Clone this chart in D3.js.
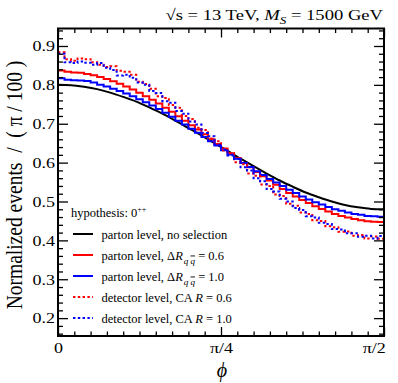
<!DOCTYPE html>
<html>
<head>
<meta charset="utf-8">
<script src="https://cdn.jsdelivr.net/npm/d3@7"></script>
<style>
  html, body { margin: 0; padding: 0; background: #fff; }
  svg { display: block; font-family: "Liberation Serif", "Times New Roman", serif; }
</style>
</head>
<body>
<svg id="chart" width="398" height="383"></svg>
<script>
// ---- data -------------------------------------------------------------
// 50 bins of width pi/100 over phi in [0, pi/2]
const binCount = 50;
const phiMax = Math.PI / 2;

// smooth reference curve, sampled at phi = k*pi/50, k = 0..25
const noSelection = [0.800, 0.799, 0.795, 0.789, 0.780, 0.769, 0.757, 0.742, 0.726, 0.708,
  0.689, 0.670, 0.650, 0.630, 0.610, 0.591, 0.572, 0.554, 0.538, 0.523,
  0.511, 0.500, 0.491, 0.485, 0.481, 0.480];

const partonR06 = [0.837, 0.834, 0.832, 0.831, 0.828, 0.825, 0.820, 0.815, 0.809, 0.803,
  0.796, 0.788, 0.780, 0.771, 0.762, 0.752, 0.741, 0.731, 0.719, 0.708,
  0.696, 0.685, 0.673, 0.660, 0.648, 0.636, 0.624, 0.612, 0.599, 0.588,
  0.576, 0.565, 0.554, 0.543, 0.532, 0.522, 0.513, 0.504, 0.496, 0.488,
  0.481, 0.474, 0.468, 0.463, 0.459, 0.455, 0.452, 0.449, 0.448, 0.447];

const partonR10 = [0.817, 0.813, 0.812, 0.811, 0.810, 0.806, 0.800, 0.796, 0.790, 0.784,
  0.778, 0.771, 0.763, 0.755, 0.747, 0.738, 0.728, 0.718, 0.708, 0.698,
  0.687, 0.677, 0.666, 0.655, 0.644, 0.632, 0.621, 0.610, 0.599, 0.589,
  0.578, 0.568, 0.558, 0.549, 0.540, 0.530, 0.522, 0.513, 0.505, 0.498,
  0.492, 0.486, 0.480, 0.476, 0.472, 0.468, 0.466, 0.463, 0.462, 0.461];

const detectorR06 = [0.884, 0.866, 0.862, 0.868, 0.866, 0.858, 0.852, 0.846, 0.848, 0.836,
  0.834, 0.826, 0.808, 0.802, 0.790, 0.771, 0.766, 0.748, 0.741, 0.720,
  0.712, 0.690, 0.684, 0.662, 0.655, 0.631, 0.624, 0.601, 0.596, 0.572,
  0.566, 0.544, 0.540, 0.518, 0.514, 0.494, 0.489, 0.472, 0.468, 0.452,
  0.450, 0.436, 0.434, 0.422, 0.423, 0.412, 0.414, 0.405, 0.410, 0.404];

const detectorR10 = [0.880, 0.858, 0.856, 0.860, 0.857, 0.852, 0.856, 0.844, 0.838, 0.824,
  0.826, 0.818, 0.806, 0.800, 0.784, 0.779, 0.758, 0.754, 0.733, 0.726,
  0.706, 0.698, 0.676, 0.668, 0.646, 0.634, 0.618, 0.609, 0.588, 0.580,
  0.560, 0.552, 0.532, 0.526, 0.507, 0.500, 0.483, 0.478, 0.462, 0.459,
  0.445, 0.442, 0.429, 0.428, 0.418, 0.418, 0.409, 0.412, 0.405, 0.411];

const yTickValues = [0.2, 0.3, 0.4, 0.5, 0.6, 0.7, 0.8, 0.9];
const xTickValues = [0, Math.PI / 4, Math.PI / 2];
const xTickLabels = ["0", "π/4", "π/2"];

const series = [
  { name: "parton level, no selection", values: noSelection, color: "#000000", dash: null, kind: "curve" },
  { name: "parton level, ΔR = 0.6", values: partonR06, color: "#ff0000", dash: null, kind: "hist" },
  { name: "parton level, ΔR = 1.0", values: partonR10, color: "#0000ff", dash: null, kind: "hist" },
  { name: "detector level, CA R = 0.6", values: detectorR06, color: "#ff0000", dash: "2.4,2.4", kind: "hist" },
  { name: "detector level, CA R = 1.0", values: detectorR10, color: "#0000ff", dash: "2.4,2.4", kind: "hist" }
];

// ---- layout -----------------------------------------------------------
const frame = { left: 58, right: 384, top: 28.5, bottom: 336 };
const svg = d3.select("#chart");

const x = d3.scaleLinear().domain([0, phiMax]).range([frame.left, frame.right]);
const y = d3.scaleLinear().domain([0.154, 0.945]).range([frame.bottom, frame.top]);

const plot = svg.append("g");
plot.append("clipPath").attr("id", "clip")
  .append("rect")
  .attr("x", frame.left).attr("y", frame.top)
  .attr("width", frame.right - frame.left).attr("height", frame.bottom - frame.top);

const curves = plot.append("g").attr("clip-path", "url(#clip)");

series.forEach(s => {
  let pts, curve;
  if (s.kind === "curve") {
    const step = phiMax / (s.values.length - 1);
    pts = s.values.map((v, k) => [k * step, v]);
    curve = d3.curveMonotoneX;
  } else {
    const w = phiMax / binCount;
    pts = s.values.map((v, i) => [i * w, v]);
    pts.push([binCount * w, s.values[s.values.length - 1]]);
    curve = d3.curveStepAfter;
  }
  const line = d3.line().x(d => x(d[0])).y(d => y(d[1])).curve(curve);
  curves.append("path")
    .datum(pts)
    .attr("d", line)
    .attr("fill", "none")
    .attr("stroke", s.color)
    .attr("stroke-width", 2)
    .attr("stroke-dasharray", s.dash);
});

// ---- axes (ticks inside on all four sides) -----------------------------
const minorY = d3.range(16, 95, 2).map(v => v / 100).filter(v => Math.abs(v * 10 - Math.round(v * 10)) > 1e-6);
const minorX = d3.range(1, 20).map(k => k * Math.PI / 40).filter(v => Math.abs(v - Math.PI / 4) > 1e-6);

const axisStroke = g => {
  g.select(".domain").remove();
  g.selectAll("line").attr("stroke", "#000").attr("stroke-width", 1.3);
};

const labelSize = 15;
const labelStretch = 1.2;

// left
const gLeft = svg.append("g").attr("transform", `translate(${frame.left},0)`);
gLeft.call(d3.axisLeft(y).tickValues(yTickValues).tickSize(-10).tickPadding(3)
  .tickFormat(d3.format(".1f"))).call(axisStroke);
gLeft.selectAll("text")
  .attr("font-size", labelSize)
  .attr("font-family", "Liberation Serif")
  .attr("fill", "#000")
  .attr("x", -3 / labelStretch)
  .attr("transform", `scale(${labelStretch},1)`);
svg.append("g").attr("transform", `translate(${frame.left},0)`)
  .call(d3.axisLeft(y).tickValues(minorY).tickSize(-5).tickFormat("")).call(axisStroke);

// right
svg.append("g").attr("transform", `translate(${frame.right},0)`)
  .call(d3.axisRight(y).tickValues(yTickValues).tickSize(-10).tickFormat("")).call(axisStroke);
svg.append("g").attr("transform", `translate(${frame.right},0)`)
  .call(d3.axisRight(y).tickValues(minorY).tickSize(-5).tickFormat("")).call(axisStroke);

// bottom
const gBottom = svg.append("g").attr("transform", `translate(0,${frame.bottom})`);
gBottom.call(d3.axisBottom(x).tickValues(xTickValues).tickSize(-9).tickPadding(4)
  .tickFormat((d, i) => xTickLabels[i])).call(axisStroke);
gBottom.selectAll("text")
  .attr("font-size", labelSize)
  .attr("font-family", "Liberation Serif")
  .attr("fill", "#000")
  .attr("y", 17)
  .attr("dy", null)
  .attr("transform", `scale(${labelStretch},1)`)
  .attr("text-anchor", (d, i) => i === xTickValues.length - 1 ? "end" : "middle")
  .attr("x", (d, i) => i === xTickValues.length - 1 ? 1 : 0);
svg.append("g").attr("transform", `translate(0,${frame.bottom})`)
  .call(d3.axisBottom(x).tickValues(minorX).tickSize(-4.5).tickFormat("")).call(axisStroke);

// top
svg.append("g").attr("transform", `translate(0,${frame.top})`)
  .call(d3.axisTop(x).tickValues(xTickValues).tickSize(-9).tickFormat("")).call(axisStroke);
svg.append("g").attr("transform", `translate(0,${frame.top})`)
  .call(d3.axisTop(x).tickValues(minorX).tickSize(-4.5).tickFormat("")).call(axisStroke);

// frame
svg.append("rect")
  .attr("x", frame.left).attr("y", frame.top)
  .attr("width", frame.right - frame.left).attr("height", frame.bottom - frame.top)
  .attr("fill", "none").attr("stroke", "#000").attr("stroke-width", 2);

// ---- titles -------------------------------------------------------------
const title = svg.append("g").attr("transform", `translate(383,20) scale(${labelStretch},1)`)
  .append("text").attr("text-anchor", "end").attr("font-size", 15.5).attr("fill", "#000");
title.append("tspan").text("√s = 13 TeV, ");
title.append("tspan").attr("font-style", "italic").text("M");
title.append("tspan").attr("font-style", "italic").attr("font-size", 11).attr("dy", 4).text("S");
title.append("tspan").attr("dy", -4).text(" = 1500 GeV");

svg.append("text")
  .attr("x", (frame.left + frame.right) / 2 + 1).attr("y", 377)
  .attr("text-anchor", "middle").attr("font-size", 20).attr("font-style", "italic")
  .text("\u03D5");

svg.append("g").attr("transform", `translate(22,185) scale(1.15,1) rotate(-90)`)
  .append("text").attr("text-anchor", "middle").attr("font-size", 19.5)
  .attr("xml:space", "preserve")
  .text("Normalized events  /  ( π / 100 )");

// ---- legend -------------------------------------------------------------
const legend = svg.append("g").attr("font-size", 12.5).attr("fill", "#000");
const hyp = legend.append("text").attr("x", 71).attr("y", 217);
hyp.append("tspan").text("hypothesis: 0");
hyp.append("tspan").attr("font-size", 8).attr("dy", -5).text("++");

const rowY = [234, 255, 276, 297, 318];
series.forEach((s, i) => {
  legend.append("line")
    .attr("x1", 73).attr("x2", 93).attr("y1", rowY[i]).attr("y2", rowY[i])
    .attr("stroke", s.color).attr("stroke-width", 2)
    .attr("stroke-dasharray", s.dash);
  const t = legend.append("text").attr("x", 101.5).attr("y", rowY[i] + 4.5);
  if (i === 0) {
    t.text(s.name);
  } else if (i <= 2) {
    t.append("tspan").text("parton level, Δ");
    t.append("tspan").attr("font-style", "italic").text("R");
    t.append("tspan").attr("font-style", "italic").attr("font-size", 9).attr("dy", 4).attr("dx", 1).text("q ");
    t.append("tspan").attr("font-style", "italic").attr("font-size", 9)
      .style("text-decoration", "overline").text("q");
    t.append("tspan").attr("dy", -4).text(i === 1 ? " = 0.6" : " = 1.0");
  } else {
    t.append("tspan").text("detector level, CA ");
    t.append("tspan").attr("font-style", "italic").text("R");
    t.append("tspan").text(i === 3 ? " = 0.6" : " = 1.0");
  }
});
</script>
</body>
</html>
